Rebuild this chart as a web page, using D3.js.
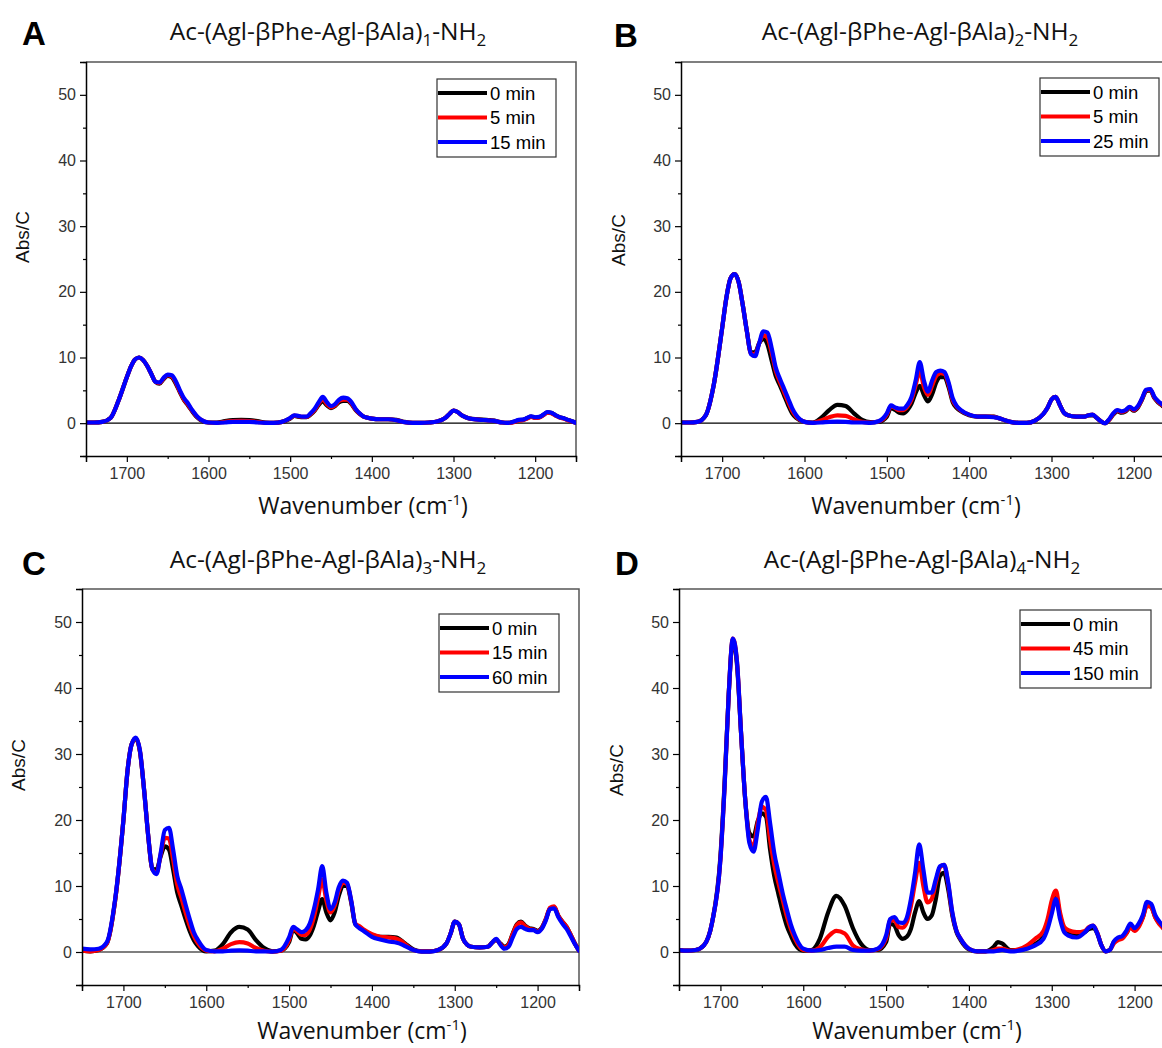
<!DOCTYPE html>
<html><head><meta charset="utf-8">
<script src="https://cdn.jsdelivr.net/npm/d3@7"></script>
<style>body{margin:0;background:#fff}svg{display:block}</style>
</head><body>
<script>
// ---------- DATA ----------
const wavenumbers = [
 1750,1740,1730,1720,1710,1700,1695,1690,1685,1680,
 1675,1670,1665,1660,1655,1650,1645,1640,1635,1630,
 1625,1620,1615,1610,1600,1590,1580,1570,1560,1550,
 1540,1530,1520,1510,1500,1495,1490,1485,1480,1475,
 1470,1465,1460,1455,1450,1445,1440,1435,1430,1425,
 1420,1415,1410,1400,1390,1380,1370,1365,1360,1350,
 1340,1330,1320,1310,1305,1300,1295,1290,1285,1280,
 1270,1260,1255,1250,1245,1240,1235,1230,1225,1220,
 1215,1210,1205,1200,1195,1190,1185,1180,1175,1170,
 1165,1160,1155,1150];

// Panel A: Ac-(Agl-βPhe-Agl-βAla)1-NH2
const A_0min = [
 0.1,0.1,0.2,0.8,3.5,7.0,8.6,9.7,10.0,9.6,
 8.7,7.5,6.3,6.0,6.7,7.2,7.0,6.0,4.7,3.5,
 2.7,1.8,1.0,0.5,0.1,0.1,0.3,0.45,0.5,0.45,
 0.3,0.1,0.05,0.2,0.7,1.1,1.0,0.9,0.9,1.3,
 1.9,2.8,3.3,2.7,2.3,2.6,3.2,3.4,3.4,2.9,
 2.0,1.4,1.0,0.7,0.6,0.6,0.5,0.35,0.2,0.05,
 0.05,0.1,0.25,0.8,1.4,1.9,1.7,1.2,0.9,0.7,
 0.6,0.5,0.45,0.4,0.2,0.1,0.05,0.1,0.25,0.45,
 0.5,0.75,1.0,0.85,0.9,1.25,1.65,1.55,1.2,0.9,
 0.75,0.5,0.3,0.05];
const A_5min = [
 0.1,0.1,0.2,0.8,3.5,7.0,8.6,9.7,10.0,9.6,
 8.7,7.5,6.3,6.1,6.8,7.3,7.1,6.2,4.8,3.6,
 2.8,1.9,1.1,0.55,0.1,0.05,0.2,0.3,0.35,0.3,
 0.2,0.05,0.05,0.2,0.75,1.15,1.05,0.95,0.95,1.4,
 2.0,3.0,3.6,2.9,2.4,2.7,3.4,3.6,3.6,3.0,
 2.1,1.45,1.0,0.7,0.6,0.6,0.45,0.3,0.15,0.05,
 0.05,0.1,0.25,0.8,1.4,1.9,1.7,1.2,0.9,0.7,
 0.55,0.45,0.4,0.35,0.2,0.1,0.05,0.05,0.2,0.4,
 0.45,0.7,0.95,0.8,0.85,1.2,1.6,1.5,1.15,0.85,
 0.7,0.45,0.25,0.05];
const A_15min = [
 0.1,0.1,0.2,0.8,3.5,7.0,8.6,9.7,10.0,9.6,
 8.7,7.5,6.3,6.2,6.9,7.4,7.3,6.4,5.0,3.8,
 3.0,2.0,1.2,0.6,0.1,0.05,0.1,0.2,0.2,0.2,
 0.1,0.05,0.05,0.2,0.8,1.2,1.1,1.0,1.0,1.5,
 2.2,3.2,4.0,3.2,2.6,2.9,3.6,3.9,3.8,3.2,
 2.2,1.5,1.0,0.7,0.6,0.6,0.45,0.3,0.15,0.05,
 0.05,0.1,0.25,0.8,1.4,1.9,1.7,1.2,0.9,0.7,
 0.55,0.45,0.4,0.35,0.2,0.1,0.05,0.1,0.3,0.5,
 0.55,0.8,1.05,0.9,0.95,1.3,1.7,1.6,1.2,0.9,
 0.75,0.5,0.3,0.05];

// Panel B: Ac-(Agl-βPhe-Agl-βAla)2-NH2
const B_0min = [
 0.1,0.1,0.2,1.2,6.0,14.5,19.0,22.0,22.7,21.5,
 18.0,14.0,10.8,10.8,12.2,12.8,12.0,9.6,7.2,5.8,
 4.3,2.8,1.5,0.8,0.2,0.1,0.8,2.0,2.8,2.6,
 1.5,0.5,0.15,0.2,1.0,2.3,2.0,1.6,1.5,2.0,
 3.0,4.6,5.7,4.3,3.3,4.4,6.2,7.0,7.0,5.5,
 3.2,2.3,1.8,1.2,1.0,1.0,1.0,0.8,0.6,0.2,
 0.05,0.05,0.4,1.4,2.3,3.6,4.0,2.8,1.6,1.2,
 1.0,1.0,1.2,1.2,0.8,0.3,0.0,0.5,1.3,1.8,
 1.6,1.8,2.3,1.9,2.4,3.6,4.9,5.0,3.8,3.1,
 2.6,2.0,1.2,0.5];
const B_5min = [
 0.1,0.1,0.2,1.2,6.0,14.5,19.0,22.0,22.7,21.5,
 18.0,14.0,10.6,10.5,12.2,13.4,13.0,10.8,8.0,6.3,
 4.8,3.3,1.9,1.0,0.2,0.05,0.4,0.9,1.2,1.1,
 0.6,0.2,0.1,0.25,1.3,2.6,2.3,2.0,2.0,2.5,
 3.6,5.8,8.0,5.5,4.3,5.7,7.2,7.6,7.5,5.9,
 3.5,2.5,1.9,1.3,1.0,1.0,0.95,0.8,0.6,0.2,
 0.05,0.05,0.4,1.4,2.3,3.6,4.0,2.8,1.6,1.2,
 1.0,1.0,1.2,1.3,0.8,0.3,0.0,0.5,1.4,1.9,
 1.7,1.9,2.4,2.0,2.5,3.7,5.0,5.1,3.9,3.2,
 2.7,2.1,1.3,0.5];
const B_25min = [
 0.1,0.1,0.2,1.2,6.0,14.5,19.0,22.0,22.7,21.5,
 18.0,14.0,10.5,10.2,12.2,14.0,13.8,11.5,8.5,6.8,
 5.3,3.8,2.3,1.2,0.2,0.05,0.1,0.2,0.25,0.2,
 0.1,0.1,0.05,0.3,1.5,2.7,2.4,2.2,2.2,2.8,
 4.0,6.5,9.3,6.5,4.8,6.5,7.8,8.0,7.8,6.2,
 3.8,2.6,2.0,1.3,1.0,1.0,0.9,0.8,0.6,0.2,
 0.05,0.05,0.4,1.4,2.3,3.6,4.0,2.8,1.6,1.2,
 1.0,1.0,1.2,1.3,0.8,0.3,0.0,0.6,1.5,2.0,
 1.8,2.0,2.5,2.1,2.6,3.8,5.1,5.2,4.0,3.3,
 2.8,2.2,1.3,0.5];

// Panel C: Ac-(Agl-βPhe-Agl-βAla)3-NH2
const C_0min = [
 0.2,0.1,0.3,1.3,7.8,20.0,27.5,31.5,32.3,30.3,
 24.5,17.5,12.6,12.5,14.5,16.0,15.5,12.5,9.0,7.0,
 5.0,3.2,1.8,0.9,0.1,0.2,1.2,3.0,3.8,3.4,
 1.8,0.6,0.1,0.2,1.5,3.4,2.8,2.0,1.9,2.5,
 4.0,6.2,8.0,6.0,4.8,6.0,8.5,10.0,10.0,7.5,
 4.2,3.8,3.3,2.6,2.3,2.3,2.2,1.8,1.3,0.4,
 0.1,0.1,0.3,1.3,2.8,4.6,4.2,2.0,1.1,0.8,
 0.7,0.8,1.4,1.8,1.3,0.8,1.2,2.8,4.2,4.6,
 4.0,3.6,3.5,3.2,3.7,5.0,6.6,6.8,5.5,4.6,
 3.8,2.6,1.3,0.2];
const C_15min = [
 0.2,0.1,0.3,1.3,7.8,20.0,27.5,31.5,32.4,30.4,
 24.5,17.5,12.5,12.0,14.8,17.3,17.2,14.0,10.2,8.2,
 6.0,4.0,2.4,1.3,0.2,0.1,0.5,1.2,1.5,1.3,
 0.6,0.2,0.05,0.2,1.8,3.6,3.1,2.6,2.6,3.4,
 5.3,8.2,11.0,7.8,6.0,7.0,9.3,10.5,10.3,7.7,
 4.3,3.9,3.4,2.7,2.3,2.2,2.0,1.7,1.2,0.3,
 0.1,0.1,0.3,1.3,2.8,4.6,4.2,2.0,1.1,0.8,
 0.7,0.8,1.4,1.9,1.2,0.7,1.1,2.7,4.1,4.5,
 3.9,3.5,3.4,3.1,3.6,5.0,6.7,6.9,5.5,4.6,
 3.8,2.6,1.3,0.2];
const C_60min = [
 0.5,0.4,0.5,1.5,8.0,20.0,27.5,31.5,32.5,30.5,
 24.5,17.5,12.5,11.8,15.0,18.5,18.8,15.5,11.5,9.5,
 7.2,5.0,3.0,1.8,0.3,0.1,0.1,0.2,0.25,0.2,
 0.1,0.1,0.05,0.3,2.2,3.8,3.4,3.0,3.3,4.3,
 6.5,9.5,13.0,9.0,6.5,7.5,9.8,10.8,10.5,7.8,
 4.2,3.6,3.2,2.3,1.9,1.6,1.4,1.2,0.9,0.3,
 0.05,0.05,0.3,1.3,2.8,4.6,4.2,2.0,1.1,0.8,
 0.7,0.8,1.4,2.0,1.1,0.5,0.8,2.2,3.5,3.8,
 3.5,3.3,3.3,3.0,3.5,4.8,6.5,6.6,5.3,4.3,
 3.5,2.4,1.2,0.2];

// Panel D: Ac-(Agl-βPhe-Agl-βAla)4-NH2
const D_0min = [
 0.3,0.2,0.3,1.0,4.5,14.5,25.5,39.0,47.2,43.5,
 33.0,23.0,18.0,17.5,19.8,21.0,20.5,15.5,11.5,8.8,
 6.2,4.0,2.5,1.2,0.2,0.3,2.0,6.0,8.5,7.0,
 3.6,1.2,0.3,0.3,1.5,4.3,4.0,2.6,2.0,2.3,
 3.5,6.0,7.7,6.0,5.0,5.5,8.0,11.5,12.0,9.5,
 5.5,3.0,1.8,0.4,0.1,0.1,0.8,1.5,1.3,0.3,
 0.3,0.6,1.2,2.4,4.0,6.3,8.5,5.5,3.5,3.0,
 2.7,3.0,3.5,3.6,2.8,1.0,0.1,0.3,1.5,2.0,
 2.3,2.8,3.8,3.3,4.0,5.3,7.2,6.9,5.3,4.3,
 3.6,2.4,1.4,0.5];
const D_45min = [
 0.3,0.2,0.3,1.0,4.5,14.0,25.0,39.0,47.5,44.0,
 33.0,23.0,17.0,16.0,19.5,22.0,21.5,17.0,13.2,10.5,
 8.0,5.5,3.5,2.0,0.3,0.2,0.7,2.3,3.2,2.8,
 1.0,0.4,0.2,0.4,2.0,4.8,4.8,3.8,3.7,4.5,
 7.0,10.5,13.5,10.0,7.5,8.0,10.5,12.8,13.2,10.3,
 5.8,3.2,2.0,0.5,0.1,0.1,0.3,0.5,0.5,0.2,
 0.4,1.0,2.0,3.2,5.0,7.8,9.3,6.0,3.8,3.3,
 3.0,3.2,3.8,4.0,2.9,1.0,0.1,0.3,1.3,1.8,
 2.0,2.8,3.7,3.2,3.8,5.2,7.0,6.8,5.2,4.2,
 3.5,2.3,1.3,0.4];
const D_150min = [
 0.3,0.2,0.3,1.0,4.5,14.0,25.0,39.0,47.5,44.0,
 33.0,23.0,16.5,15.2,18.5,22.8,23.5,19.5,15.0,12.0,
 9.0,6.5,4.2,2.5,0.5,0.2,0.3,0.6,0.8,0.8,
 0.3,0.2,0.2,0.5,2.5,5.0,5.3,4.5,4.4,5.2,
 8.0,12.0,16.3,12.5,9.0,9.0,11.0,13.0,13.2,10.5,
 6.0,3.2,2.0,0.5,0.1,0.1,0.1,0.2,0.3,0.1,
 0.2,0.5,1.0,2.0,3.5,5.8,8.0,5.0,3.0,2.5,
 2.2,3.0,3.7,4.0,2.8,1.0,0.1,0.3,1.6,2.2,
 2.4,3.2,4.3,3.6,4.3,5.6,7.6,7.3,5.6,4.6,
 3.8,2.5,1.5,0.5];

const panelLetters = ["A","B","C","D"];
const repeatIndex = ["1","2","3","4"];
const legendA = ["0 min","5 min","15 min"];
const legendB = ["0 min","5 min","25 min"];
const legendC = ["0 min","15 min","60 min"];
const legendD = ["0 min","45 min","150 min"];
const yMajorTicks = [0,10,20,30,40,50];
const yMinorTicks = [-5,5,15,25,35,45,55];
const xMajorTicks = [1700,1600,1500,1400,1300,1200];
const xMinorTicks = [1750,1650,1550,1450,1350,1250,1150];
const seriesColors = ["#000000","#ff0000","#0000ff"];

// ---------- LAYOUT ----------
const panels = [
 {letter:panelLetters[0], idx:repeatIndex[0], series:[A_0min,A_5min,A_15min], legend:legendA,
  x0:86,x1:576,y0:62,y1:456, lx:22,ly:45, tx:328,ty:40, xtx:363,xty:514, ytx:29,yty:237, lgx:437,lgy:79,lgw:119},
 {letter:panelLetters[1], idx:repeatIndex[1], series:[B_0min,B_5min,B_25min], legend:legendB,
  x0:681,x1:1175,y0:62,y1:456, lx:614,ly:47, tx:920,ty:40, xtx:916,xty:514, ytx:625,yty:240, lgx:1040,lgy:78,lgw:119},
 {letter:panelLetters[2], idx:repeatIndex[2], series:[C_0min,C_15min,C_60min], legend:legendC,
  x0:82,x1:579,y0:589,y1:985, lx:22,ly:575, tx:328,ty:568, xtx:362,xty:1039, ytx:25,yty:765, lgx:439,lgy:614,lgw:120},
 {letter:panelLetters[3], idx:repeatIndex[3], series:[D_0min,D_45min,D_150min], legend:legendD,
  x0:679,x1:1176,y0:589,y1:985, lx:615,ly:575, tx:922,ty:568, xtx:917,xty:1039, ytx:623,yty:770, lgx:1020,lgy:610,lgw:131}
];

const W=1162,H=1048;
const svg = d3.select("body").append("svg").attr("width",W).attr("height",H)
  .style("font-family","'Liberation Sans',Arial,sans-serif");
svg.append("rect").attr("width",W).attr("height",H).attr("fill","#fff");

const titleFont = "'Open Sans','Noto Sans',sans-serif";

panels.forEach((p,pi)=>{
  const x = d3.scaleLinear().domain([1750,1150]).range([p.x0,p.x1]);
  const y = d3.scaleLinear().domain([-5,55]).range([p.y1,p.y0]);
  const g = svg.append("g");

  const cid = "clip"+pi;
  svg.append("clipPath").attr("id",cid).append("rect")
    .attr("x",p.x0).attr("y",p.y0).attr("width",p.x1-p.x0).attr("height",p.y1-p.y0);

  g.append("path").attr("d",`M${p.x0},${p.y0}H${p.x1}V${p.y1}`)
    .attr("fill","none").attr("stroke","#555").attr("stroke-width",1.5);

  g.append("line").attr("x1",p.x0).attr("x2",p.x1).attr("y1",y(0)).attr("y2",y(0))
    .attr("stroke","#000").attr("stroke-width",1.2);

  const line = d3.line().x((d,i)=>x(wavenumbers[i])).y(d=>y(d)).curve(d3.curveMonotoneX);
  const cg = g.append("g").attr("clip-path",`url(#${cid})`);
  p.series.forEach((s,si)=>{
    cg.append("path").datum(s).attr("d",line).attr("fill","none")
      .attr("stroke",seriesColors[si]).attr("stroke-width",4.2).attr("stroke-linejoin","round").attr("stroke-linecap","round");
  });

  const fmt = d3.format("d");
  const yAx = g.append("g").attr("transform",`translate(${p.x0},0)`)
    .call(d3.axisLeft(y).tickValues(yMajorTicks).tickSize(6).tickPadding(4).tickFormat(fmt));
  const yAxm = g.append("g").attr("transform",`translate(${p.x0},0)`)
    .call(d3.axisLeft(y).tickValues(yMinorTicks).tickSize(3).tickFormat(""));
  const xAx = g.append("g").attr("transform",`translate(0,${p.y1})`)
    .call(d3.axisBottom(x).tickValues(xMajorTicks).tickSize(6).tickPadding(6).tickFormat(fmt));
  const xAxm = g.append("g").attr("transform",`translate(0,${p.y1})`)
    .call(d3.axisBottom(x).tickValues(xMinorTicks).tickSize(3).tickFormat(""));
  [yAx,yAxm,xAx,xAxm].forEach(a=>{
    a.select(".domain").attr("stroke","#000").attr("stroke-width",1.5);
    a.selectAll(".tick line").attr("stroke","#000").attr("stroke-width",1.2);
    a.selectAll("text").attr("font-size",16).attr("fill","#333")
      .attr("font-family","'Liberation Sans',Arial,sans-serif");
  });
  yAxm.select(".domain").remove(); xAxm.select(".domain").remove();

  svg.append("text").attr("x",p.lx).attr("y",p.ly).text(p.letter)
    .attr("font-size",33).attr("font-weight","bold").attr("fill","#000");

  const t = svg.append("text").attr("x",p.tx).attr("y",p.ty).attr("text-anchor","middle")
    .attr("font-family",titleFont).attr("font-size",24.5).attr("fill","#111");
  t.append("tspan").text("Ac-(Agl-βPhe-Agl-βAla)");
  t.append("tspan").attr("dy",6).attr("font-size",17).text(p.idx);
  t.append("tspan").attr("dy",-6).text("-NH");
  t.append("tspan").attr("dy",6).attr("font-size",17).text("2");

  const xt = svg.append("text").attr("x",p.xtx).attr("y",p.xty).attr("text-anchor","middle")
    .attr("font-family",titleFont).attr("font-size",23).attr("fill","#111");
  xt.append("tspan").text("Wavenumber (cm");
  xt.append("tspan").attr("dy",-9).attr("font-size",15).text("-1");
  xt.append("tspan").attr("dy",9).text(")");

  svg.append("text").attr("transform",`translate(${p.ytx},${p.yty}) rotate(-90)`)
    .attr("text-anchor","middle").attr("font-size",19).attr("fill","#111").text("Abs/C");

  const lg = svg.append("g").attr("transform",`translate(${p.lgx},${p.lgy})`);
  lg.append("rect").attr("width",p.lgw).attr("height",78).attr("fill","#fff")
    .attr("stroke","#333").attr("stroke-width",1.2);
  p.legend.forEach((lab,li)=>{
    const yy = 14 + li*24.5;
    lg.append("line").attr("x1",1).attr("x2",50).attr("y1",yy).attr("y2",yy)
      .attr("stroke",seriesColors[li]).attr("stroke-width",4);
    lg.append("text").attr("x",53).attr("y",yy+6.5).attr("font-size",18.5).attr("fill","#000").text(lab);
  });
});
</script>
</body></html>
